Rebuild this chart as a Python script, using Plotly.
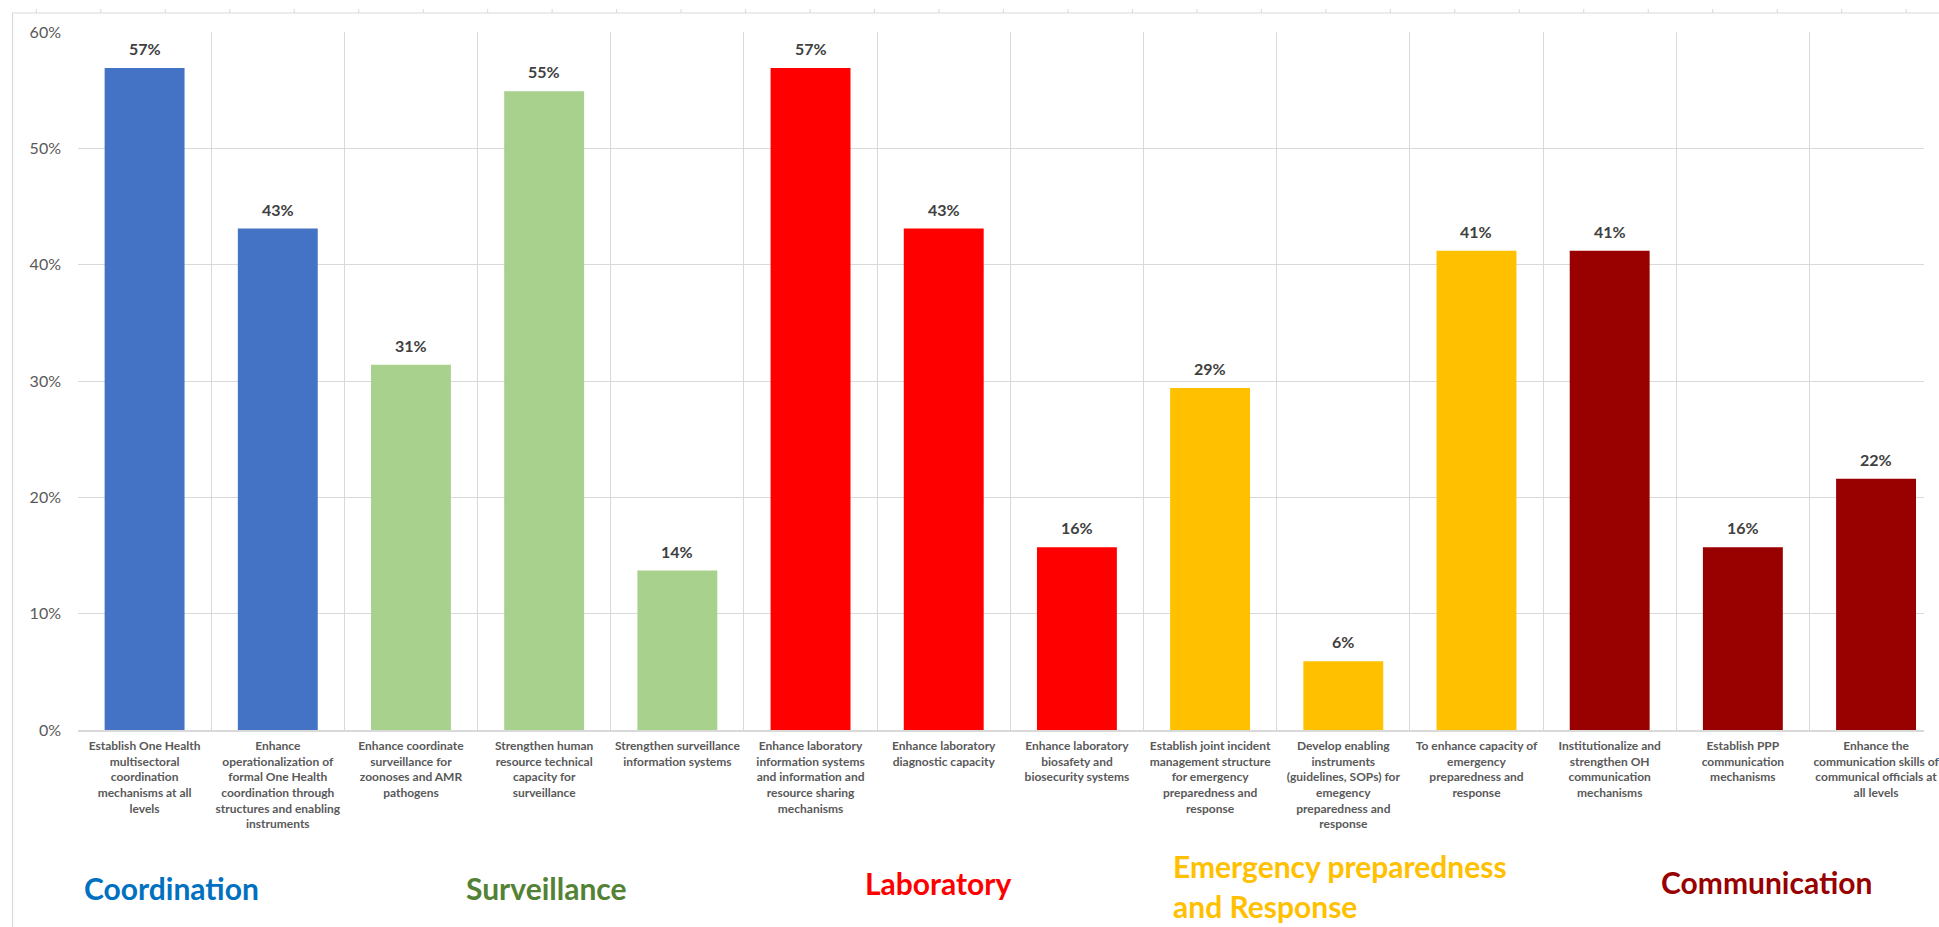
import plotly.graph_objects as go

categories = [
    "Establish One Health<br>multisectoral<br>coordination<br>mechanisms at all<br>levels",
    "Enhance<br>operationalization of<br>formal One Health<br>coordination through<br>structures and enabling<br>instruments",
    "Enhance coordinate<br>surveillance for<br>zoonoses and AMR<br>pathogens",
    "Strengthen human<br>resource technical<br>capacity for<br>surveillance",
    "Strengthen surveillance<br>information systems",
    "Enhance laboratory<br>information systems<br>and information and<br>resource sharing<br>mechanisms",
    "Enhance laboratory<br>diagnostic capacity",
    "Enhance laboratory<br>biosafety and<br>biosecurity systems",
    "Establish joint incident<br>management structure<br>for emergency<br>preparedness and<br>response",
    "Develop enabling<br>instruments<br>(guidelines, SOPs) for<br>emegency<br>preparedness and<br>response",
    "To enhance capacity of<br>emergency<br>preparedness and<br>response",
    "Institutionalize and<br>strengthen OH<br>communication<br>mechanisms",
    "Establish PPP<br>communication<br>mechanisms",
    "Enhance the<br>communication skills of<br>communical officials at<br>all levels",
]
values = [0.569, 0.431, 0.314, 0.549, 0.137, 0.569, 0.431, 0.157,
          0.294, 0.059, 0.412, 0.412, 0.157, 0.216]
bar_colors = ["#4472C4", "#4472C4", "#A9D18E", "#A9D18E", "#A9D18E",
              "#FF0000", "#FF0000", "#FF0000", "#FFC000", "#FFC000",
              "#FFC000", "#990000", "#990000", "#990000"]

groups = ["Coordination", "Surveillance", "Laboratory",
          "Emergency preparedness", "and Response", "Communication"]
group_colors = ["#0070C0", "#548235", "#FF0000", "#FFC000", "#FFC000", "#990000"]
group_px = [82, 467, 869, 1180, 1180, 1672]
group_py = [888, 888, 883, 866, 906, 882]

W, H = 1939, 927
L, T, B = 78, 32, 730
PW, PH = W - L, B - T

fig = go.Figure()
fig.add_trace(go.Bar(
    x=categories, y=values, marker=dict(color=bar_colors, line=dict(width=0)),
    width=0.6, hoverinfo="skip",
))

ann = []
for c, v in zip(categories, values):
    ann.append(dict(x=c, y=v, xref="x", yref="y", text=f"{v:.0%}", showarrow=False,
                    yanchor="bottom", yshift=8,
                    font=dict(family="Lato", size=16, color="#404040", weight="bold")))
for g, col, px, py in zip(groups, group_colors, group_px, group_py):
    ann.append(dict(x=(px - L) / PW, y=(B - py) / PH, xref="paper", yref="paper",
                    text=f"<b>{g}</b>", showarrow=False, xanchor="left", yanchor="middle",
                    font=dict(family="Lato", size=30, color=col)))

shapes = [dict(type="rect", xref="paper", yref="paper",
               x0=(12 - L) / PW, x1=1.05, y0=-0.5, y1=(B - 13) / PH,
               line=dict(color="#D9D9D9", width=1.2), layer="below")]
for tx in range(36, W, 65):
    shapes.append(dict(type="line", xref="paper", yref="paper",
                       x0=(tx - L) / PW, x1=(tx - L) / PW,
                       y0=(B - 9) / PH, y1=(B - 13) / PH,
                       line=dict(color="#D9D9D9", width=1)))

fig.update_layout(
    width=W, height=H, autosize=False,
    margin=dict(l=L, r=0, t=T, b=H - B, pad=0),
    paper_bgcolor="white", plot_bgcolor="white",
    showlegend=False, bargap=0.4,
    annotations=ann, shapes=shapes,
    font=dict(family="Lato"),
    xaxis=dict(type="category", range=[-0.5, 13.36], tickson="boundaries",
               showgrid=True, gridcolor="#D9D9D9", gridwidth=1.2,
               showline=True, linecolor="#D9D9D9", linewidth=1.5, ticks="",
               tickangle=0, ticklabelstandoff=4,
               tickfont=dict(family="Lato", size=12, color="#595959", weight="bold"),
               fixedrange=True),
    yaxis=dict(range=[0, 0.6], dtick=0.1, tickformat=".0%", showgrid=True,
               gridcolor="#D9D9D9", gridwidth=1.2, zeroline=False, showline=False,
               ticks="", ticklabelstandoff=16,
               tickfont=dict(family="Lato", size=16, color="#595959"),
               fixedrange=True),
)

fig.write_html("out.html", config={"displayModeBar": False},
               post_script="document.body.style.margin='0';document.body.style.overflow='hidden';")
